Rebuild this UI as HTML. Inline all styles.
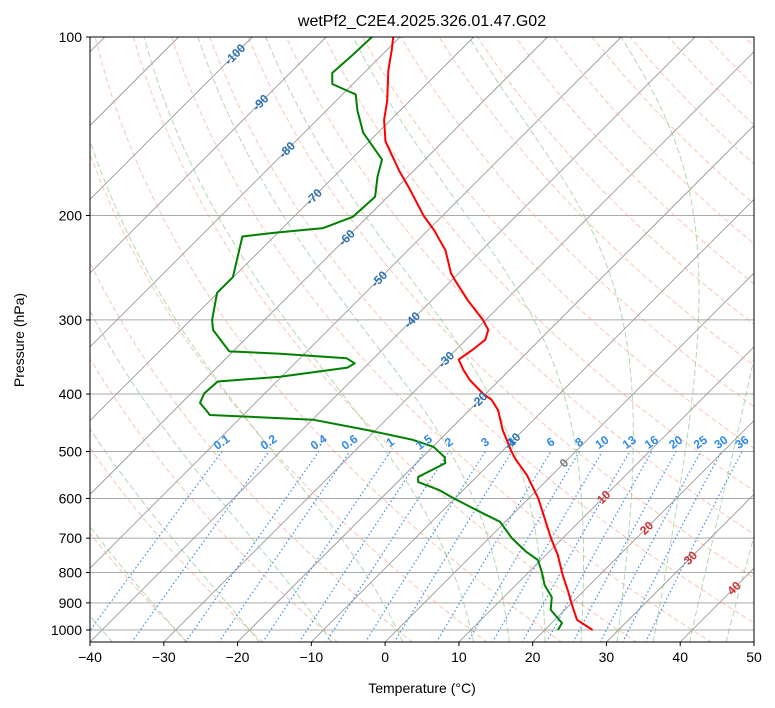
<!DOCTYPE html>
<html><head><meta charset="utf-8">
<style>
body{margin:0;background:#fff;}
svg{display:block;font-family:"Liberation Sans","DejaVu Sans",sans-serif;}
</style></head>
<body>
<svg id="chart" width="775" height="708" viewBox="0 0 775 708" xmlns="http://www.w3.org/2000/svg">
<defs><clipPath id="clip"><rect x="90" y="37" width="664" height="605"/></clipPath></defs>
<rect width="775" height="708" fill="#fff"/>
<text x="422" y="26" font-size="16" text-anchor="middle">wetPf2_C2E4.2025.326.01.47.G02</text>
<g id="plot" clip-path="url(#clip)"></g>
<g id="labels"></g>
<rect x="90" y="37" width="664" height="605" fill="none" stroke="#000" stroke-width="1"/>
<g id="axes"></g>
<text x="422" y="693" font-size="14" text-anchor="middle">Temperature (°C)</text>
<text x="24" y="340" font-size="14" text-anchor="middle" transform="rotate(-90 24 340)">Pressure (hPa)</text>
</svg>
<script>
const tempP = [1000,961,907,856,808,747,700,650,600,548,517,500,460,426,409,400,379,364,350,335,324,312,300,278,257,250,229,212,200,181,168,150,138,128,114,105,100];
const tempT = [26.5,23.0,20.3,17.7,15.0,11.6,8.4,5.0,1.3,-3.4,-6.9,-8.7,-12.8,-16.1,-18.4,-20.3,-24,-26.3,-28.3,-27.7,-27.4,-28.3,-30.4,-35.1,-39.6,-41.1,-44.9,-49.1,-52.6,-57.9,-62,-67.8,-70.9,-73.1,-77,-79.4,-80.9];
const dewP = [1000,973,925,880,840,801,762,739,700,657,632,599,581,563,552,523,511,491,478,460,442,434,414,399,381,374,361,355,348,342,339,312,300,270,254,217,214,210,201,186,172,161,145,133,125,120,115,108,100];
const dewT = [21.8,21.4,18.1,16.5,13.9,11.9,9.6,7.0,3.1,-0.7,-4.8,-10.3,-13.2,-17.2,-17.9,-16.1,-17.0,-19.9,-23.6,-31.2,-39.9,-54.5,-57.5,-58.2,-58.0,-50.2,-42.3,-41.9,-43.7,-53.3,-60.5,-65.6,-67.1,-70.1,-70.1,-74.3,-70.6,-64.5,-62,-61.7,-64.1,-65.8,-72,-75.8,-78.2,-82.8,-84.3,-84,-83.8];
const pTicks = [100,200,300,400,500,600,700,800,900,1000];
const tTicks = [-40,-30,-20,-10,0,10,20,30,40,50];
const mixRatios = [0.1,0.2,0.4,0.6,1,1.5,2,3,4,6,8,10,13,16,20,25,30,36];
const mixLabels = ["0.1","0.2","0.4","0.6","1","1.5","2","3","4","6","8","10","13","16","20","25","30","36"];
const isoLabelT = [-100,-90,-80,-70,-60,-50,-40,-30,-20,-10,0,10,20,30,40];
const isoLabelP = [107,129,155,186,218,256,300,350,410,480,523,597,673,756,850];

const X0=90,X1=754,Y0=37,YB=642,T0=-40,T1=50;
const sx=(X1-X0)/(T1-T0);
const yOf=p=>Y0+Math.log10(p/100)*593;
const xOf=(T,p)=>X0+(T-T0)*sx+(YB-yOf(p));
const NS='http://www.w3.org/2000/svg';
const plot=document.getElementById('plot'),axes=document.getElementById('axes'),labels=document.getElementById('labels');
function mk(tag,attrs,parent){const e=document.createElementNS(NS,tag);for(const k in attrs)e.setAttribute(k,attrs[k]);parent.appendChild(e);return e;}
function pathFrom(pts){return pts.map((q,i)=>(i?'L':'M')+q[0].toFixed(1)+' '+q[1].toFixed(1)).join(' ');}
pTicks.forEach(p=>{const l=mk('line',{x1:X0,x2:X1,y1:yOf(p),y2:yOf(p),stroke:'#aaa','stroke-width':1},plot);

});
for(let T=-140;T<=50;T+=10){const l=mk('line',{x1:xOf(T,1050),y1:yOf(1050),x2:xOf(T,100),y2:yOf(100),stroke:'#999','stroke-width':0.9},plot);

}
const plevs=[];for(let p=1050;p>=100;p-=10)plevs.push(p);
for(let t=-30;t<=200;t+=10){const th=t+273.15;const pts=plevs.map(p=>[xOf(th*Math.pow(p/1000,0.2857)-273.15,p),yOf(p)]);
const e=mk('path',{d:pathFrom(pts),fill:'none',stroke:'#f4a080','stroke-width':1,'stroke-dasharray':'5,3',opacity:0.6},plot);

}
function es(T){return 6.112*Math.exp(17.67*T/(T+243.5));}
function dTdp(T,p){const Tk=T+273.15,rs=0.622*es(T)/(p-es(T)),Rd=287,Lv=2.501e6,Cp=1005;
return (Rd*Tk+Lv*rs)/(p*(Cp+Lv*Lv*rs*0.622/(Rd*Tk*Tk)));}
function moist(t0){const up=[],dn=[];let T=t0;for(let p=1000;p>=100;p-=5){up.push([xOf(T,p),yOf(p)]);T-=dTdp(T,p)*5;}
T=t0;for(let p=1000;p<=1050;p+=5){dn.unshift([xOf(T,p),yOf(p)]);T+=dTdp(T,p)*5;}return dn.concat(up);}
const mt=[-50,-40,-30,-20,-10,0,10,15,20,25,30,35,40,45];
mt.forEach(t=>{const e=mk('path',{d:pathFrom(moist(t)),fill:'none',stroke:'#7cc07c','stroke-width':1,'stroke-dasharray':'6,3',opacity:0.6},plot);

});
function tdOf(w,p){const e=w*p/(622+w);const l=Math.log(e/6.112);return 243.5*l/(17.67-l);}
mixRatios.forEach((w,i)=>{const pts=[];for(let p=1050;p>=500;p-=10)pts.push([xOf(tdOf(w,p),p),yOf(p)]);
const e=mk('path',{d:pathFrom(pts),fill:'none',stroke:'#3b8ee8','stroke-width':1.2,'stroke-dasharray':'1.5,2.5'},plot);


const x=xOf(tdOf(w,500),500)+2,y=yOf(500)-6;
const t=mk('text',{x:x,y:y,'font-size':12,'font-weight':'bold',fill:'#2f8ae8','text-anchor':'middle',transform:`rotate(-35 ${x} ${y})`},labels);
t.textContent=mixLabels[i];

});
isoLabelT.forEach((T,i)=>{const x=xOf(T,isoLabelP[i]),y=yOf(isoLabelP[i]);
const col=T<0?'#2a70b0':(T==0?'#777':'#d03030');
const t=mk('text',{x:x,y:y+4,'font-size':12,'font-weight':'bold',fill:col,'text-anchor':'middle',transform:`rotate(-45 ${x} ${y})`},labels);
t.textContent=String(T);

});
const tp=mk('path',{d:pathFrom(tempP.map((p,i)=>[xOf(tempT[i],p),yOf(p)])),fill:'none',stroke:'#ff0000','stroke-width':2,'stroke-linejoin':'round'},plot);


const dp=mk('path',{d:pathFrom(dewP.map((p,i)=>[xOf(dewT[i],p),yOf(p)])),fill:'none',stroke:'#008000','stroke-width':2,'stroke-linejoin':'round'},plot);


pTicks.forEach(p=>{const y=yOf(p);mk('line',{x1:X0-4,x2:X0,y1:y,y2:y,stroke:'#000'},axes);
const t=mk('text',{x:X0-8,y:y+5,'font-size':14,'text-anchor':'end'},axes);t.textContent=p;

});
tTicks.forEach(T=>{const x=X0+(T-T0)*sx;mk('line',{x1:x,x2:x,y1:YB,y2:YB+4,stroke:'#000'},axes);
const t=mk('text',{x:x,y:YB+20,'font-size':14,'text-anchor':'middle'},axes);t.textContent=T<0?'\u2212'+(-T):T;

});
</script>
</body></html>
